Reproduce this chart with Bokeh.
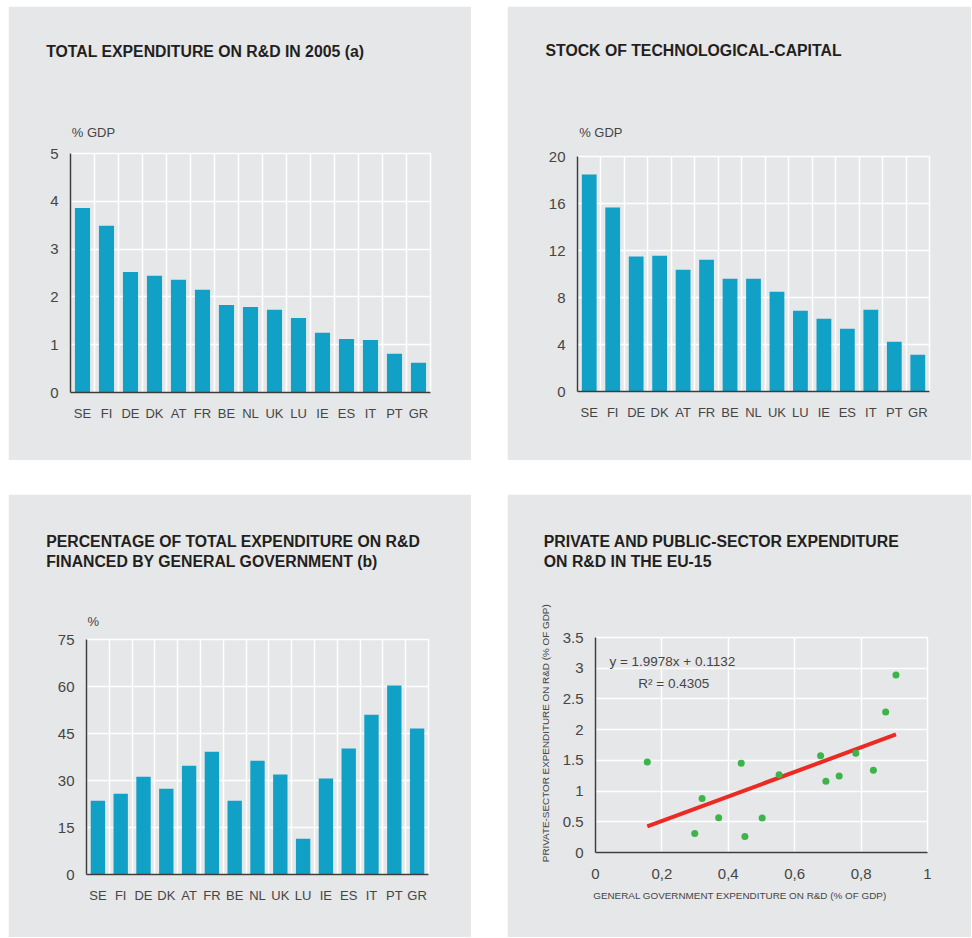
import math
from bokeh.plotting import figure
from bokeh.models import FactorRange, Range1d, FixedTicker, Label, Title, CustomJSTickFormatter
from bokeh.layouts import row, column
from bokeh.embed import file_html
from bokeh.resources import INLINE

# ---------------- data ----------------
categories = ["SE", "FI", "DE", "DK", "AT", "FR", "BE", "NL", "UK", "LU", "IE", "ES", "IT", "PT", "GR"]
rd_total_2005 = [3.86, 3.49, 2.52, 2.44, 2.36, 2.15, 1.83, 1.79, 1.73, 1.56, 1.25, 1.12, 1.10, 0.81, 0.62]
tech_capital_stock = [18.47, 15.65, 11.48, 11.56, 10.37, 11.22, 9.60, 9.60, 8.49, 6.88, 6.19, 5.34, 6.96, 4.23, 3.13]
gov_financed_pct = [23.5, 25.8, 31.2, 27.4, 34.7, 39.2, 23.5, 36.3, 31.9, 11.4, 30.6, 40.2, 51.0, 60.3, 46.6]
gov_rd = [0.156, 0.299, 0.321, 0.371, 0.439, 0.450, 0.502, 0.553, 0.678, 0.694, 0.734, 0.784, 0.837, 0.874, 0.905]
private_rd = [1.473, 0.310, 0.880, 0.565, 1.451, 0.261, 0.560, 1.266, 1.576, 1.158, 1.245, 1.614, 1.337, 2.288, 2.891]
trend_slope = 1.9978
trend_intercept = 0.1132
trend_r2 = 0.4305

yticks_total = [0, 1, 2, 3, 4, 5]
yticks_stock = [0, 4, 8, 12, 16, 20]
yticks_gov = [0, 15, 30, 45, 60, 75]
yticks_scatter = [0, 0.5, 1, 1.5, 2, 2.5, 3, 3.5]
xticks_scatter = [0, 0.2, 0.4, 0.6, 0.8, 1]

# ---------------- style ----------------
BG = "#e6e7e8"
BAR = "#11a1c7"
GREEN = "#3bb54a"
RED = "#ec2a24"
TITLE_C = "#231f20"
TXT = "#454545"
AXIS_C = "#3c3c3c"
FONT = "Liberation Sans"
TSIZE = "15.8px"
USIZE = "13px"


def make_fig(w, h, bl, br, bt, fh, x_range, y_range):
    bb = h - bt - fh
    p = figure(width=w, height=h, x_range=x_range, y_range=y_range,
               output_backend="svg", toolbar_location=None, tools="",
               frame_align=False,
               min_border_left=bl, min_border_right=br,
               min_border_top=bt, min_border_bottom=bb,
               background_fill_color=BG, border_fill_color=BG,
               outline_line_color="white", outline_line_width=1.5)
    for ax in (p.xaxis, p.yaxis):
        ax.axis_line_color = AXIS_C
        ax.axis_line_width = 1.5
        ax.major_tick_line_color = None
        ax.minor_tick_line_color = None
        ax.major_tick_out = 0
        ax.major_tick_in = 0
        ax.major_label_text_color = TXT
        ax.major_label_text_font = FONT
    p.yaxis.major_label_text_font_size = "15px"
    p.yaxis.major_label_standoff = 12
    p.xgrid.grid_line_color = "white"
    p.ygrid.grid_line_color = "white"
    p.xgrid.grid_line_width = 1.5
    p.ygrid.grid_line_width = 1.5
    return p


def title(p, text, side, size, offset, standoff, bold=False, color=TXT):
    p.add_layout(Title(text=text, align="left", offset=offset, standoff=standoff,
                       vertical_align="bottom", text_font=FONT, text_font_size=size,
                       text_font_style="bold" if bold else "normal",
                       text_color=color), side)


def spacer(p, standoff):
    p.add_layout(Title(text=" ", text_font=FONT, text_font_size="1px",
                       standoff=standoff, text_color=BG), "above")


def bar_panel(w, h, bl, br, bt, fh, values, yticks):
    p = make_fig(w, h, bl, br, bt, fh, FactorRange(factors=categories),
                 Range1d(yticks[0], yticks[-1]))
    p.vbar(x=categories, top=values, width=0.63, color=BAR, line_color=None)
    p.yaxis.ticker = FixedTicker(ticks=yticks)
    p.xgrid.ticker = FixedTicker(ticks=list(range(1, len(categories))))
    p.xaxis.major_label_text_font_size = "13px"
    p.xaxis.major_label_standoff = 13
    return p


# Panel 1 (above stack listed from the frame outward)
p1 = bar_panel(463, 454, 62, 41, 147, 239, rd_total_2005, yticks_total)
title(p1, "% GDP", "above", USIZE, 1.3, 27.1)
spacer(p1, 47.2)
title(p1, "TOTAL EXPENDITURE ON R&D IN 2005 (a)", "above", TSIZE, -24.3, 0, bold=True, color=TITLE_C)
spacer(p1, 28.9)

# Panel 2
p2 = bar_panel(464, 454, 70, 42, 150, 235, tech_capital_stock, yticks_stock)
title(p2, "% GDP", "above", USIZE, 1.7, 33.1)
spacer(p2, 44.5)
title(p2, "STOCK OF TECHNOLOGICAL-CAPITAL", "above", TSIZE, -32, 0, bold=True, color=TITLE_C)
spacer(p2, 27.9)

# Panel 3
p3 = bar_panel(463, 443, 78, 43, 145, 235, gov_financed_pct, yticks_gov)
title(p3, "%", "above", USIZE, 1, 21.1)
spacer(p3, 29.2)
title(p3, "FINANCED BY GENERAL GOVERNMENT (b)", "above", TSIZE, -40.3, 0, bold=True, color=TITLE_C)
title(p3, "PERCENTAGE OF TOTAL EXPENDITURE ON R&D", "above", TSIZE, -40.3, 0.7, bold=True, color=TITLE_C)
spacer(p3, 30.9)

# Panel 4
p4 = make_fig(464, 443, 88, 44, 143, 215,
              Range1d(xticks_scatter[0], xticks_scatter[-1]),
              Range1d(yticks_scatter[0], yticks_scatter[-1]))
p4.xaxis.ticker = FixedTicker(ticks=xticks_scatter)
p4.yaxis.ticker = FixedTicker(ticks=yticks_scatter)
p4.xaxis.formatter = CustomJSTickFormatter(
    code="return (Math.round(tick*10)/10).toString().replace('.', ',');")
p4.yaxis.formatter = CustomJSTickFormatter(
    code="return (Math.round(tick*10)/10).toString();")
p4.xaxis.major_label_text_font_size = "15px"
p4.xaxis.major_label_standoff = 16

tx = [min(gov_rd), max(gov_rd)]
ty = [trend_slope * v + trend_intercept for v in tx]
p4.line(tx, ty, line_color=RED, line_width=4)
p4.scatter(gov_rd, private_rd, size=7, color=GREEN, line_color=None)

p4.add_layout(Label(x=0.042, y=3.109, text=f"y = {trend_slope}x + {trend_intercept}",
                    text_font=FONT, text_font_size="13.5px", text_color=TXT,
                    text_baseline="alphabetic"))
p4.add_layout(Label(x=0.129, y=2.746, text=f"R\u00b2 = {trend_r2}", text_font=FONT,
                    text_font_size="13.5px", text_color=TXT, text_baseline="alphabetic"))

spacer(p4, 65.2)
title(p4, "ON R&D IN THE EU-15", "above", TSIZE, -51.7, 0, bold=True, color=TITLE_C)
title(p4, "PRIVATE AND PUBLIC-SECTOR EXPENDITURE", "above", TSIZE, -51.7, 1.3, bold=True, color=TITLE_C)
spacer(p4, 29.9)
title(p4, "GENERAL GOVERNMENT EXPENDITURE ON R&D (% OF GDP)", "below", "9.9px", -2.3, 12.6)
title(p4, "PRIVATE-SECTOR EXPENDITURE ON R&D (% OF GDP)", "left", "9.9px", -9.7, 18)

layout = column(row(p1, p2, spacing=36), row(p3, p4, spacing=36), spacing=34,
                margin=(6, 0, 0, 8))

open("out.html", "w").write(file_html(layout, INLINE))
